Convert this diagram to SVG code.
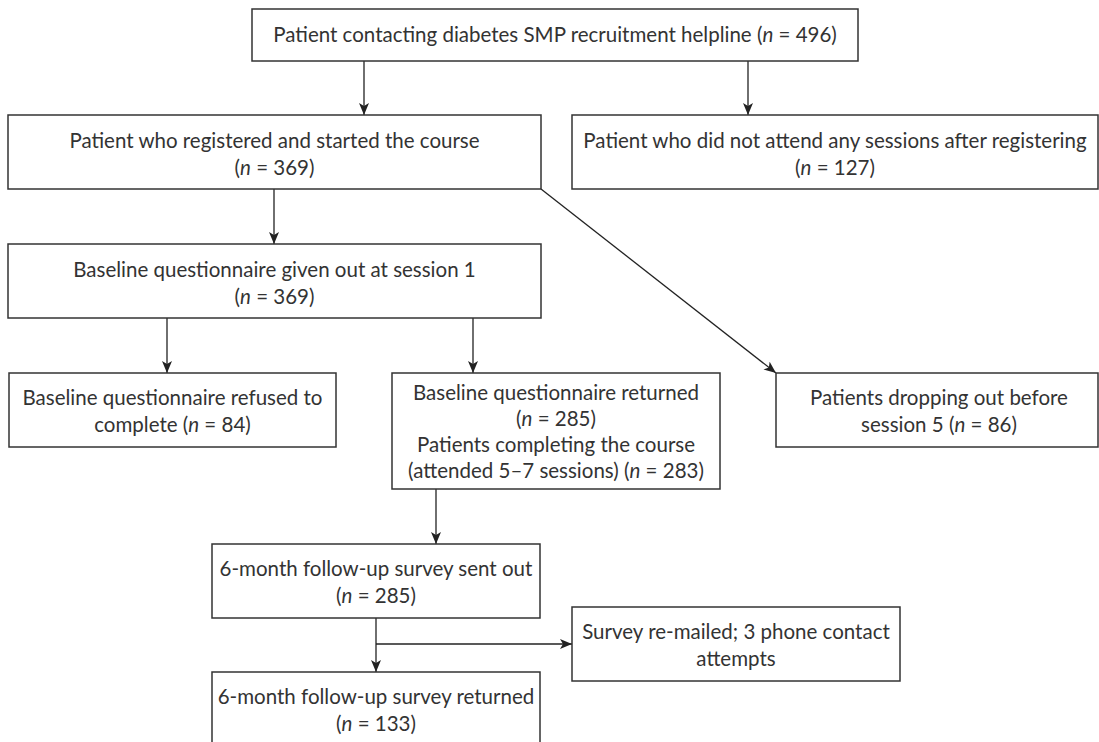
<svg xmlns="http://www.w3.org/2000/svg" width="1099" height="742" viewBox="0 0 1099 742">
<defs>
<marker id="ah" markerWidth="12" markerHeight="10" refX="12" refY="5" orient="auto" markerUnits="userSpaceOnUse">
<path d="M0,0 L12,5 L0,10 L3,5 Z" fill="#222"/>
</marker>
<style>
.box{fill:#fff;stroke:#333;stroke-width:1.5}
.t{font-family:Lato,"Open Sans","Liberation Sans",sans-serif;font-size:20.5px;fill:#333;text-anchor:middle}
.i{font-style:italic}
.c{stroke:#222;stroke-width:1.3;fill:none}
</style>
</defs>
<rect width="1099" height="742" fill="#fff"/>
<g id="connectors">
<line class="c" x1="364" y1="61" x2="364" y2="115" marker-end="url(#ah)"/>
<line class="c" x1="748" y1="61" x2="748" y2="115" marker-end="url(#ah)"/>
<line class="c" x1="274" y1="189" x2="274" y2="244" marker-end="url(#ah)"/>
<line class="c" x1="541" y1="189" x2="776" y2="373" marker-end="url(#ah)"/>
<line class="c" x1="167" y1="318" x2="167" y2="373" marker-end="url(#ah)"/>
<line class="c" x1="473" y1="318" x2="473" y2="373" marker-end="url(#ah)"/>
<line class="c" x1="436" y1="489" x2="436" y2="544" marker-end="url(#ah)"/>
<line class="c" x1="376" y1="618" x2="376" y2="672" marker-end="url(#ah)"/>
<line class="c" x1="376" y1="644" x2="572" y2="644" marker-end="url(#ah)"/>
</g>
<g id="n1">
<rect class="box" x="252" y="9" width="606" height="52"/>
<text class="t" x="555" y="42">Patient contacting diabetes SMP recruitment helpline (<tspan class="i">n</tspan> = 496)</text>
</g>
<g id="n2">
<rect class="box" x="8" y="115" width="533" height="74"/>
<text class="t" x="274.5" y="148">Patient who registered and started the course</text>
<text class="t" x="274.5" y="175">(<tspan class="i">n</tspan> = 369)</text>
</g>
<g id="n3">
<rect class="box" x="572" y="115" width="526" height="74"/>
<text class="t" x="835" y="148">Patient who did not attend any sessions after registering</text>
<text class="t" x="835" y="175">(<tspan class="i">n</tspan> = 127)</text>
</g>
<g id="n4">
<rect class="box" x="8" y="244" width="533" height="74"/>
<text class="t" x="274.5" y="277">Baseline questionnaire given out at session 1</text>
<text class="t" x="274.5" y="304">(<tspan class="i">n</tspan> = 369)</text>
</g>
<g id="n5">
<rect class="box" x="9" y="373" width="327" height="74"/>
<text class="t" x="172.5" y="405">Baseline questionnaire refused to</text>
<text class="t" x="172.5" y="432">complete (<tspan class="i">n</tspan> = 84)</text>
</g>
<g id="n6">
<rect class="box" x="392" y="373" width="328" height="116"/>
<text class="t" x="556" y="400">Baseline questionnaire returned</text>
<text class="t" x="556" y="426">(<tspan class="i">n</tspan> = 285)</text>
<text class="t" x="556" y="452">Patients completing the course</text>
<text class="t" x="556" y="478">(attended 5–7 sessions) (<tspan class="i">n</tspan> = 283)</text>
</g>
<g id="n7">
<rect class="box" x="776" y="373" width="322" height="74"/>
<text class="t" x="939" y="405">Patients dropping out before</text>
<text class="t" x="939" y="432">session 5 (<tspan class="i">n</tspan> = 86)</text>
</g>
<g id="n8">
<rect class="box" x="212" y="544" width="328" height="74"/>
<text class="t" x="376" y="576">6-month follow-up survey sent out</text>
<text class="t" x="376" y="603">(<tspan class="i">n</tspan> = 285)</text>
</g>
<g id="n9">
<rect class="box" x="572" y="607" width="328" height="74"/>
<text class="t" x="736" y="639">Survey re-mailed; 3 phone contact</text>
<text class="t" x="736" y="666">attempts</text>
</g>
<g id="n10">
<rect class="box" x="212" y="672" width="328" height="80"/>
<text class="t" x="376" y="704">6-month follow-up survey returned</text>
<text class="t" x="376" y="731">(<tspan class="i">n</tspan> = 133)</text>
</g>
</svg>
